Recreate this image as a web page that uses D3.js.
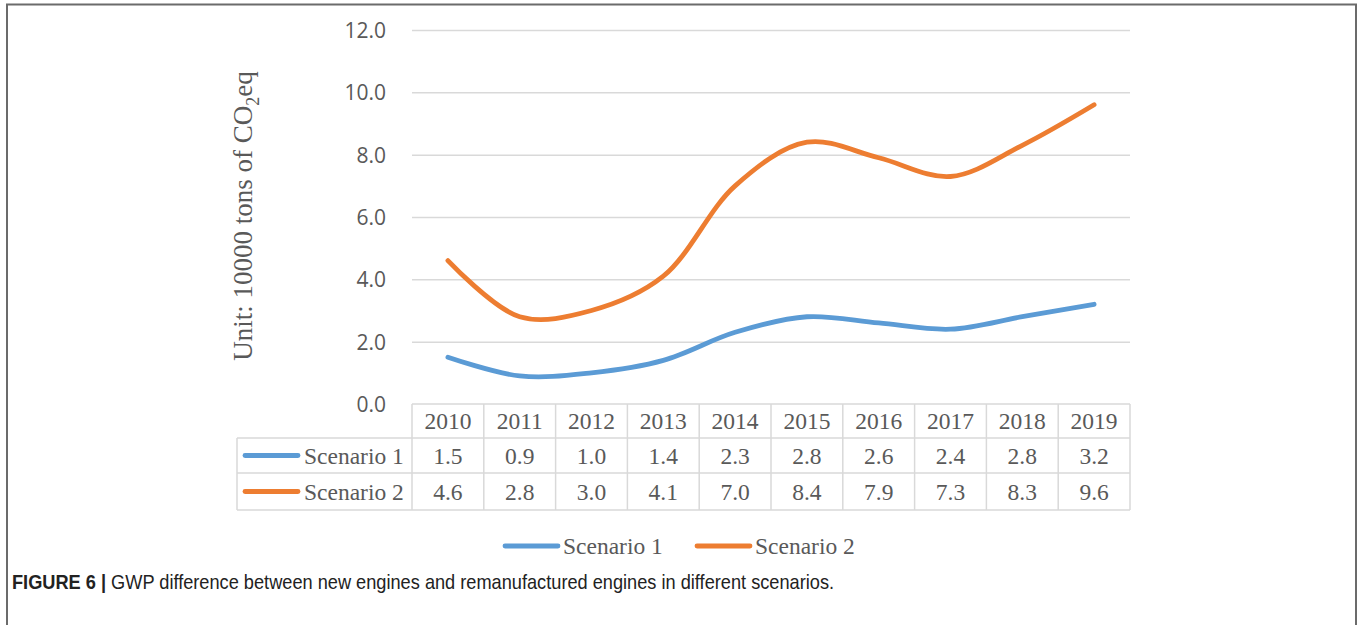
<!DOCTYPE html>
<html>
<head>
<meta charset="utf-8">
<script src="https://cdn.jsdelivr.net/npm/d3@7"></script>
<style>
  html, body { margin: 0; padding: 0; background: #fff; }
  svg { display: block; }
</style>
</head>
<body>
<div id="chart"></div>
<script>
// Chart data
const years = ['2010', '2011', '2012', '2013', '2014', '2015', '2016', '2017', '2018', '2019'];
const seriesNames = ['Scenario 1', 'Scenario 2'];
const scenario1 = [1.5, 0.9, 1.0, 1.4, 2.3, 2.8, 2.6, 2.4, 2.8, 3.2];
const scenario2 = [4.6, 2.8, 3.0, 4.1, 7.0, 8.4, 7.9, 7.3, 8.3, 9.6];
const yTicks = [0, 2, 4, 6, 8, 10, 12];
const colors = ['#5b9bd5', '#ed7d31'];

const width = 1360, height = 625;
const svg = d3.select('#chart').append('svg')
  .attr('width', width)
  .attr('height', height);

// outer frame
svg.append('path')
  .attr('d', 'M7,630 V4.5 H1356 V630')
  .attr('fill', 'none')
  .attr('stroke', '#6b6b6b')
  .attr('stroke-width', 2);

const plot = { left: 412, right: 1130, top: 30, bottom: 404 };

const x = d3.scaleBand()
  .domain(years)
  .range([plot.left, plot.right]);

const y = d3.scaleLinear()
  .domain([0, 12])
  .range([plot.bottom, plot.top]);

const gridColor = '#d9d9d9';
const textColor = '#595959';
const serif = '"Liberation Serif", "Times New Roman", serif';
const sans = '"Open Sans", "Noto Sans", sans-serif';
const tableFont = 23.5;

// gridlines + y labels via axis
const yAxis = svg.append('g')
  .attr('transform', `translate(${plot.left},0)`)
  .call(d3.axisLeft(y).tickValues(yTicks).tickSize(-(plot.right - plot.left)).tickPadding(26).tickFormat(d3.format('.1f')));
yAxis.select('.domain').remove();
yAxis.selectAll('.tick line')
  .attr('stroke', gridColor)
  .attr('stroke-width', 1.5);
yAxis.selectAll('.tick text')
  .attr('fill', textColor)
  .attr('font-family', sans)
  .attr('font-size', 21)
  .attr('dy', '0.35em');
// the 0.0 gridline is covered by the table border
yAxis.selectAll('.tick').filter(d => d === 0).select('line').remove();

// y axis title
const title = svg.append('text')
  .attr('transform', 'translate(252,216) rotate(-90)')
  .attr('text-anchor', 'middle')
  .attr('fill', textColor)
  .attr('font-family', serif)
  .attr('font-size', 27);
title.append('tspan').text('Unit: 10000 tons of CO');
title.append('tspan').attr('font-size', 18).attr('dy', 7).text('2');
title.append('tspan').attr('dy', -7).text('eq');

// lines
const line = d3.line()
  .x((d, i) => x(years[i]) + x.bandwidth() / 2)
  .y(d => y(d))
  .curve(d3.curveCatmullRom.alpha(0.5));

[scenario1, scenario2].forEach((s, i) => {
  svg.append('path')
    .datum(s)
    .attr('d', line)
    .attr('fill', 'none')
    .attr('stroke', colors[i])
    .attr('stroke-width', 4.8)
    .attr('stroke-linecap', 'round')
    .attr('stroke-linejoin', 'round');
});

// data table
const tableLeft = 237;
const rowEdges = [404, 438, 473, 510];
const tbl = svg.append('g');

// horizontal lines
tbl.append('line')
  .attr('x1', plot.left).attr('x2', plot.right)
  .attr('y1', rowEdges[0]).attr('y2', rowEdges[0]);
rowEdges.slice(1).forEach(ry => {
  tbl.append('line')
    .attr('x1', tableLeft).attr('x2', plot.right)
    .attr('y1', ry).attr('y2', ry);
});
// vertical lines
tbl.append('line')
  .attr('x1', tableLeft).attr('x2', tableLeft)
  .attr('y1', rowEdges[1]).attr('y2', rowEdges[3]);
years.forEach(yr => {
  tbl.append('line')
    .attr('x1', x(yr)).attr('x2', x(yr))
    .attr('y1', rowEdges[0]).attr('y2', rowEdges[3]);
});
tbl.append('line')
  .attr('x1', plot.right).attr('x2', plot.right)
  .attr('y1', rowEdges[0]).attr('y2', rowEdges[3]);
tbl.selectAll('line')
  .attr('stroke', gridColor)
  .attr('stroke-width', 1.5);

// header
tbl.selectAll('text.yr')
  .data(years)
  .join('text')
  .attr('class', 'yr')
  .attr('x', d => x(d) + x.bandwidth() / 2)
  .attr('y', (rowEdges[0] + rowEdges[1]) / 2)
  .attr('dy', '0.35em')
  .attr('text-anchor', 'middle')
  .attr('fill', textColor)
  .attr('font-family', serif)
  .attr('font-size', tableFont)
  .text(d => d);

[scenario1, scenario2].forEach((s, i) => {
  const cy = (rowEdges[i + 1] + rowEdges[i + 2]) / 2;
  tbl.append('line')
    .attr('x1', 245).attr('x2', 298)
    .attr('y1', cy).attr('y2', cy)
    .attr('stroke', colors[i])
    .attr('stroke-width', 4.8)
    .attr('stroke-linecap', 'round');
  tbl.append('text')
    .attr('x', 304)
    .attr('y', cy)
    .attr('dy', '0.35em')
    .attr('fill', textColor)
    .attr('font-family', serif)
    .attr('font-size', tableFont)
    .text(seriesNames[i]);
  tbl.selectAll(null)
    .data(s)
    .join('text')
    .attr('x', (d, j) => x(years[j]) + x.bandwidth() / 2)
    .attr('y', cy)
    .attr('dy', '0.35em')
    .attr('text-anchor', 'middle')
    .attr('fill', textColor)
    .attr('font-family', serif)
    .attr('font-size', tableFont)
    .text(d => d3.format('.1f')(d));
});

// legend
const legendPos = [505, 697];
seriesNames.forEach((name, i) => {
  const lg = svg.append('g').attr('transform', `translate(${legendPos[i]},546)`);
  lg.append('line')
    .attr('x1', 0).attr('x2', 53)
    .attr('stroke', colors[i])
    .attr('stroke-width', 4.8)
    .attr('stroke-linecap', 'round');
  lg.append('text')
    .attr('x', 58)
    .attr('dy', '0.35em')
    .attr('fill', textColor)
    .attr('font-family', serif)
    .attr('font-size', tableFont)
    .text(name);
});

// caption (condensed sans look)
const cap = svg.append('text')
  .attr('transform', 'translate(12,589) scale(0.91,1)')
  .attr('fill', '#222')
  .attr('font-family', '"Liberation Sans", Arial, sans-serif')
  .attr('font-size', 20);
cap.append('tspan').attr('font-weight', 'bold').text('FIGURE 6 | ');
cap.append('tspan').text('GWP difference between new engines and remanufactured engines in different scenarios.');
</script>
</body>
</html>
